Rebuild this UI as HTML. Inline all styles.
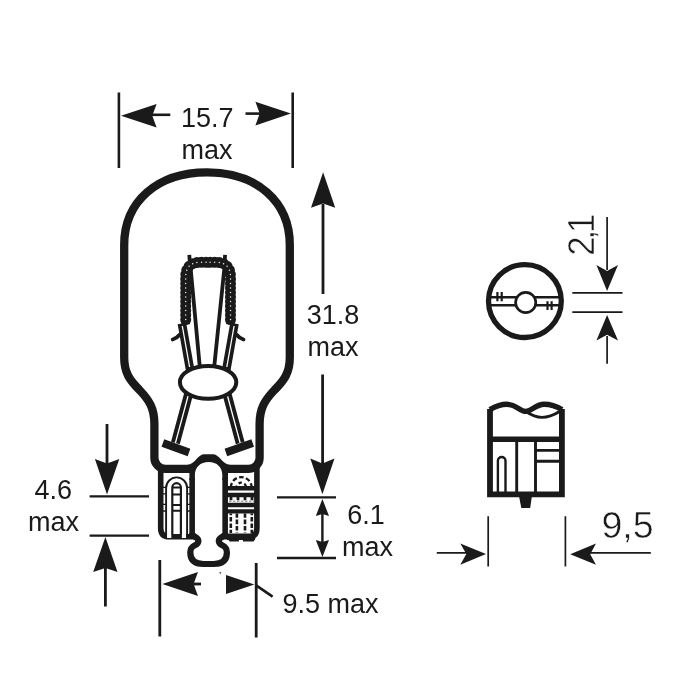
<!DOCTYPE html>
<html lang="en">
<head>
<meta charset="utf-8">
<title>Bulb dimensions</title>
<style>
html,body{margin:0;padding:0;background:#fff;}
body{width:700px;height:700px;overflow:hidden;}
svg{display:block;will-change:transform;}
text{font-family:"Liberation Sans",sans-serif;fill:#1a1a1a;}

.t{font-size:27px;}
.l{font-size:37.5px;stroke:#fff;stroke-width:0.55px;}
</style>
</head>
<body>
<svg width="700" height="700" viewBox="0 0 700 700">
<rect width="700" height="700" fill="#fff"/>
<g fill="none" stroke="#1a1a1a" stroke-linecap="butt" stroke-linejoin="round">

<!-- ===== top dimension 15.7 ===== -->
<g id="dim-top" stroke-width="2.6">
<path d="M118.9 92.5V168"/>
<path d="M292.7 92.5V168"/>
<path d="M152 114.8H170.3"/>
<path d="M245.5 113.6H260"/>
</g>
<path d="M121 115.7L156.6 104L152.3 115.7L156.6 127.6Z" fill="#1a1a1a" stroke="none"/>
<path d="M290.9 113.5L255.4 101.8L259.7 113.5L255.4 125.4Z" fill="#1a1a1a" stroke="none"/>

<!-- ===== bulb glass outline ===== -->
<path id="glass" stroke-width="8.3" d="M190 468.8H165.4A11 11 0 0 1 154.4 457.8V424C154.4 408 149 400 139.5 390C130 380.5 124.2 373 124.2 357.5V245C124.2 201.4 157.3 172.3 207 172.3C256.7 172.3 289.8 201.4 289.8 245V357.5
C289.8 373 284 380.5 274.5 390C265 400 259.6 408 259.6 424V457.8A11 11 0 0 1 248.6 468.8H227"/>
<path id="arch" fill="#1a1a1a" stroke="none" d="M187.7 464.8C194.2 464.8 198.2 454.3 203.7 454.3H213.5C219 454.3 223 464.8 229.5 464.8V472.8H228V480H222.3V475C222.3 467.5 217 462.1 208.6 462.1C200.2 462.1 194.9 467.5 194.9 475V480H189.4V472.8H187.7Z"/>

<!-- ===== base ===== -->
<g id="base" stroke-width="5.6">
<path d="M160.7 466V528Q160.7 536.8 169 536.8H194"/>
<path d="M256.9 466V528Q256.9 536.8 249 536.8H223"/>
<path d="M192.15 478V534M225.15 478V534"/>
<path stroke-width="6.2" d="M192.2 533C192.2 537.5 198.4 536.5 198.4 541C198.4 546.8 190.3 543.6 190.3 552.5C190.3 560.5 195 564 203.5 564H213.7C222.2 564 226.9 560.5 226.9 552.5C226.9 543.6 218.8 546.8 218.8 541C218.8 536.5 225.1 537.5 225.1 533"/>
<circle cx="220.3" cy="572.8" r="0.9" fill="#444" stroke="none"/>
</g>

<!-- left base details -->
<g id="base-left" stroke-width="1.9">
<path fill="#fff" stroke="none" d="M167 530H171.3V538H167ZM181.9 530H186.2V538H181.9Z"/>
<path d="M166.1 538V487.9A10.5 10.5 0 0 1 187.1 487.9V538"/>
<path stroke-width="2.2" d="M172.3 534.5V487.5A4.3 4.3 0 0 1 180.9 487.5V534.5"/>
<path stroke-width="2" d="M172.3 487.4H180.9M172.3 494.5H180.9M172.3 505.1H180.9M172.3 510.8H180.9"/>
<path stroke-width="1.3" d="M163 487.4H166M163 493.8H166M163 504.4H166M163 511H166M187.3 487.4H190M187.3 493.8H190M187.3 504.4H190M187.3 511H190"/>
</g>

<!-- right base details -->
<g id="base-right">
<path stroke-width="2.3" stroke-dasharray="4.6 2.4" d="M230.9 487.5A10.4 10.4 0 0 1 251.7 487.5"/>
<path stroke-width="2.3" stroke-dasharray="3.4 2.6" stroke-dashoffset="1.5" d="M236.5 487.5A4.8 4.8 0 0 1 246.1 487.5"/>
<path fill="#1a1a1a" stroke="none" d="M227 486.1H255V490.4H227ZM227 492.8H255V497.3H227ZM227 502.7H255V507.2H227ZM227 509.2H255V513.6H227ZM227 533.4H255V540H227Z"/>
<path stroke-width="3.2" stroke-dasharray="2.8 4.2" d="M229.6 498.6H254"/>
<path stroke="#777" stroke-width="1" stroke-dasharray="2.4 1.6" d="M229 501.2H254"/>
<path stroke-width="2.6" stroke-dasharray="4.6 1.8" stroke-dashoffset="3" d="M230.8 513.6V533M251.8 513.6V533"/>
<path stroke-width="2.6" stroke-dasharray="4.6 1.8" stroke-dashoffset="0.4" d="M236.9 513.6V533M245 513.6V533"/>
<path d="M227.6 538H238.9V541.5H229.5ZM242.9 538H255.6L253.6 541.5H242.9Z" fill="#1a1a1a" stroke="none"/>
</g>

<!-- ===== filament ===== -->
<g id="filament">
<path stroke-width="3.8" d="M189.3 254.8L189.9 264M225.1 254.8L224.5 264"/>
<path stroke-width="3.8" d="M190.6 268L199.7 366M224.4 268L214.3 366"/>
<path stroke-width="8.6" d="M185.7 324.3V277Q185.7 262.3 200.4 262.3H215.8Q230.5 262.3 230.5 277V324.3"/>
<path stroke-width="11" stroke-linecap="round" stroke-dasharray="0 4.5" d="M185.7 319.6V277Q185.7 262.3 200.4 262.3H208.1M230.5 319.6V277Q230.5 262.3 215.8 262.3H208.1"/>
<path stroke="#e8e8e8" stroke-width="1.5" stroke-linecap="round" stroke-dasharray="0 4.5" d="M185.7 319.6V277Q185.7 262.3 200.4 262.3H208.1M230.5 319.6V277Q230.5 262.3 215.8 262.3H208.1"/>
<!-- upper outer lead wires -->
<path stroke-width="8.6" d="M181.9 323.5L190.5 372M234.5 323.5L225.9 372"/>
<path stroke="#fff" stroke-width="1.3" d="M182.3 326L189.6 367M234.1 326L226.8 367"/>
<path stroke-width="3.8" stroke-linecap="round" d="M172.7 339.5Q176.7 338.4 179.6 334.8M243.5 339.5Q239.5 338.4 236.6 334.8"/>
<!-- lower lead wires -->
<path stroke-width="9" d="M188.6 394L175.4 443M227 394L240.2 443"/>
<path stroke="#fff" stroke-width="1.3" d="M188.6 394L175.4 443M227 394L240.2 443"/>
<path stroke-width="8" d="M162.9 443L189 452.4M252.7 443L225.9 452.4"/>
<!-- bead -->
<ellipse cx="208.1" cy="382.3" rx="28.2" ry="16.4" fill="#fff" stroke-width="4"/>
</g>

<!-- ===== 31.8 dimension ===== -->
<g id="dim-h" stroke-width="2.8">
<path d="M323 204V294M322.6 374.5V464"/>
</g>
<path d="M323.1 172.3L335.2 207.8L323.1 203.6L311 207.8Z" fill="#1a1a1a" stroke="none"/>
<path d="M322.4 494.2L334.5 458.6L322.4 463.4L310.3 458.6Z" fill="#1a1a1a" stroke="none"/>

<!-- ===== 6.1 dimension ===== -->
<g stroke-width="2.4">
<path d="M277 497.4H336M277 558H336"/>
<path d="M322.4 512V544"/>
</g>
<path d="M322.4 499L329 516L322.4 514L315.8 516Z" fill="#1a1a1a" stroke="none"/>
<path d="M322.4 557L329 540L322.4 542L315.8 540Z" fill="#1a1a1a" stroke="none"/>

<!-- ===== 4.6 dimension ===== -->
<g stroke-width="2.4">
<path d="M89.6 496.4H149M89.6 535.6H149"/>
<path stroke-width="2.8" d="M107 424V464M105.4 568V606.4"/>
</g>
<path d="M107 494.4L119.3 459L107 463.6L94.9 459Z" fill="#1a1a1a" stroke="none"/>
<path d="M105.4 537L117.5 572L105.4 568L93.2 572Z" fill="#1a1a1a" stroke="none"/>

<!-- ===== 9.5 max bottom dimension ===== -->
<g stroke-width="2.8">
<path d="M159.8 560V636.5M256.2 563V637.6"/>
<path d="M193 584H201"/>
<path stroke-width="2.6" d="M256.5 585.6L272.6 596.6"/>
</g>
<path d="M162.4 584L198 572L193.6 584L198 596Z" fill="#1a1a1a" stroke="none"/>
<path d="M254.4 584.4L226 575V594Z" fill="#1a1a1a" stroke="none"/>

<!-- ===== right: top view circle ===== -->
<g id="topview">
<circle cx="524.9" cy="301.1" r="36.4" stroke-width="5.3"/>
<path stroke-width="2.4" d="M490 297.3H560M490 305.3H560"/>
<circle cx="525.7" cy="302.5" r="10.1" fill="#fff" stroke-width="2.7"/>
<path stroke-width="2.2" d="M497.4 292V301.2M501.7 292V301.2M547.5 301.2V310M551.6 301.2V310"/>
</g>
<g stroke-width="1.7">
<path d="M572.3 292.8H622.5M572.3 312.2H622.5"/>
<path d="M607.1 217V270M607.1 336V363.7"/>
</g>
<path d="M607.1 291L618 265L607.1 271L596.4 265Z" fill="#1a1a1a" stroke="none"/>
<path d="M607.1 315L618 340.4L607.1 334.8L596.4 340.4Z" fill="#1a1a1a" stroke="none"/>

<!-- ===== right: side view ===== -->
<g id="sideview">
<path stroke-width="5.8" stroke-linejoin="miter" d="M490 409V494.4H561.9V409"/>
<path stroke-width="5.4" d="M489.9 409.6C496 406 501 404.3 507 404.3C516 404.3 520 411.4 525.7 411.4C531.4 411.4 536 404.3 544 404.3C550 404.3 556 406 562 409.6"/>
<path stroke-width="2.9" d="M526 411.5C531 415 536 417.4 542 417.4C548 417.4 554 415 559.5 411.5"/>
<path stroke-width="5.6" d="M489.7 439.2H562.2"/>
<path stroke-width="2.9" d="M516.7 440V493M535.5 440V493M535.5 450.4H561M535.5 461.3H561"/>
<path stroke-width="2.4" d="M497.9 493V460.8A3.8 3.8 0 0 1 505.5 460.8V493"/>
<path d="M519.2 497L521.3 508H530.2L531.8 497Z" fill="#1a1a1a" stroke="none"/>
</g>
<g stroke-width="1.7">
<path d="M488.2 516.3V566.5M565.4 516.3V566.5"/>
<path d="M436.8 552.9H467M590 552.9H650.8"/>
</g>
<path d="M486 554L460.3 543.6L466.3 554L460.3 564.8Z" fill="#1a1a1a" stroke="none"/>
<path d="M570.2 554.2L596 543.6L590.2 554.2L596 564.8Z" fill="#1a1a1a" stroke="none"/>
</g>

<!-- ===== text ===== -->
<g id="labels">
<text class="t" x="207.3" y="126.5" text-anchor="middle">15.7</text>
<text class="t" x="207" y="159.3" text-anchor="middle">max</text>
<text class="t" x="333" y="323.5" text-anchor="middle">31.8</text>
<text class="t" x="333" y="355.5" text-anchor="middle">max</text>
<text class="t" x="366" y="523.5" text-anchor="middle">6.1</text>
<text class="t" x="367.5" y="556" text-anchor="middle">max</text>
<text class="t" x="53.3" y="499" text-anchor="middle">4.6</text>
<text class="t" x="53.5" y="531.4" text-anchor="middle">max</text>
<text class="t" x="330.5" y="613" text-anchor="middle">9.5 max</text>
<text class="l" x="627.5" y="538.3" text-anchor="middle">9,5</text>
<text class="l" transform="translate(593.7 255.8) rotate(-90) scale(0.93 1)" letter-spacing="-3.4">2,1</text>
</g>
</svg>
</body>
</html>
